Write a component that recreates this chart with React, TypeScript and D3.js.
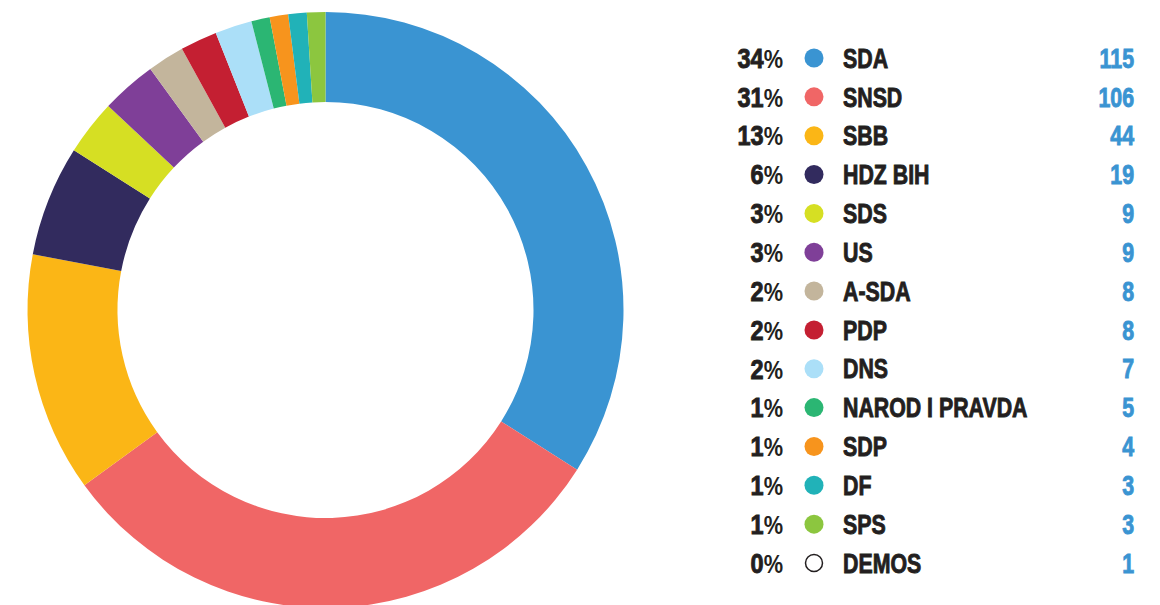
import React, {useEffect, useRef} from 'react';
import * as d3 from 'd3';

// seats per party
const parties = ['SDA', 'SNSD', 'SBB', 'HDZ BIH', 'SDS', 'US', 'A-SDA', 'PDP', 'DNS', 'NAROD I PRAVDA', 'SDP', 'DF', 'SPS', 'DEMOS'];
const seats = [115, 106, 44, 19, 9, 9, 8, 8, 7, 5, 4, 3, 3, 1];
const colors = ['#3a94d2', '#f06666', '#fbb616', '#322b5e', '#d6df23', '#7f3f98', '#c3b59c', '#c41f32', '#abdff8', '#2bb673', '#f7941d', '#21b2b8', '#8cc63f', 'none'];

const width = 1160;
const height = 605;
const cx = 325.5;
const cy = 310;
const outerRadius = 298;
const innerRadius = 208;
// squeeze a regular bold face into a condensed look
const squeeze = 0.79;

const App = () => {
    const anchor = useRef(null);

    useEffect(() => {
        const svg = d3.select(anchor.current);
        svg.selectAll('*').remove();

        const total = d3.sum(seats);
        const rows = parties.map((p, i) => ({
            label: p,
            value: seats[i],
            color: colors[i],
            pct: Math.round(seats[i] / total * 100)
        }));

        // the ring is drawn from the rounded percentages (DEMOS = 0%)
        const pie = d3.pie().sort(null).value((d) => d.pct);
        const arc = d3.arc().innerRadius(innerRadius).outerRadius(outerRadius);

        svg.append('g')
            .attr('transform', `translate(${cx},${cy})`)
            .selectAll('path')
            .data(pie(rows.filter((d) => d.pct > 0)))
            .enter().append('path')
            .attr('d', arc)
            .attr('fill', (d) => d.data.color);

        // legend
        const y = d3.scalePoint().domain(parties).range([58, 563]);
        const font = '"Liberation Sans", Arial, sans-serif';

        const row = svg.append('g')
            .selectAll('g')
            .data(rows)
            .enter().append('g')
            .attr('transform', (d) => `translate(0,${y(d.label)})`);

        const pct = row.append('text')
            .attr('transform', `translate(783,0) scale(0.87,1)`)
            .attr('dy', '0.36em')
            .attr('text-anchor', 'end')
            .style('font-family', font)
            .style('font-size', '27px')
            .style('font-weight', 700)
            .style('fill', '#231f20');
        pct.append('tspan')
            .style('stroke', '#231f20')
            .style('stroke-width', 0.9)
            .text((d) => d.pct);
        pct.append('tspan').style('font-size', '25px').text('%');

        row.append('circle')
            .attr('cx', 814)
            .attr('r', (d) => d.color === 'none' ? 8.5 : 9.5)
            .attr('fill', (d) => d.color === 'none' ? '#fff' : d.color)
            .attr('stroke', (d) => d.color === 'none' ? '#231f20' : 'none')
            .attr('stroke-width', 1.5);

        row.append('text')
            .attr('transform', `translate(843,0) scale(${squeeze},1)`)
            .attr('dy', '0.36em')
            .style('font-family', font)
            .style('font-size', '27px')
            .style('font-weight', 700)
            .style('fill', '#231f20')
            .style('stroke', '#231f20')
            .style('stroke-width', 0.9)
            .text((d) => d.label);

        row.append('text')
            .attr('transform', `translate(1134,0) scale(${squeeze},1)`)
            .attr('dy', '0.36em')
            .attr('text-anchor', 'end')
            .style('font-family', font)
            .style('font-size', '27px')
            .style('font-weight', 700)
            .style('fill', '#3a94d2')
            .style('stroke', '#3a94d2')
            .style('stroke-width', 0.9)
            .text((d) => d.value);
    }, []);

    return <svg ref={anchor} width={width} height={height}
                style={{position: 'absolute', left: 0, top: 0, background: '#fff'}}/>;
};

export default App;
